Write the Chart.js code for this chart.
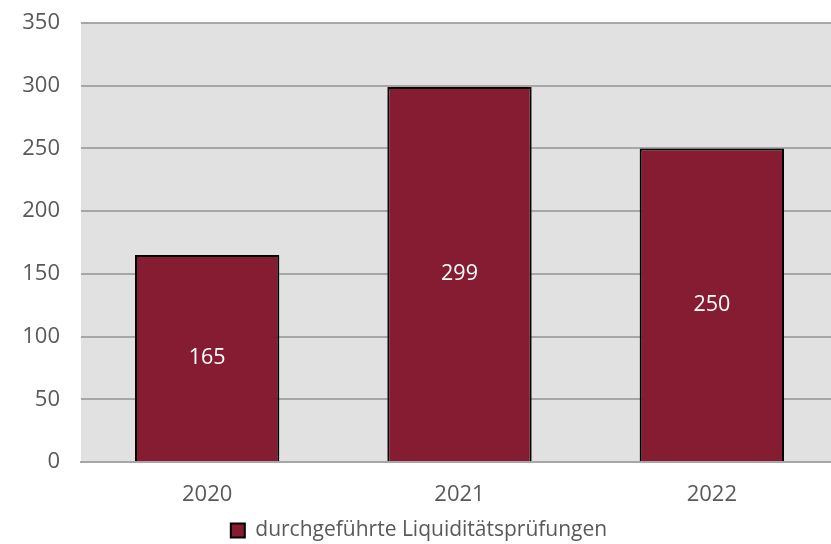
<!DOCTYPE html>
<html>
<head>
<meta charset="utf-8">
<script src="https://cdn.jsdelivr.net/npm/chart.js@4/dist/chart.umd.min.js"></script>
<style>
html,body{margin:0;padding:0;overflow:hidden;background:#fff;}
#wrap{width:838px;height:544px;}
</style>
</head>
<body>
<div id="wrap"><canvas id="c" width="838" height="544"></canvas></div>
<script>
const categories = ["2020", "2021", "2022"];
const seriesName = "durchgeführte Liquiditätsprüfungen";
const values = [165, 299, 250];
const yTicks = [0, 50, 100, 150, 200, 250, 300, 350];

const FONT = "'Open Sans', 'Noto Sans', sans-serif";

const bgPlugin = {
  id: 'plotBg',
  beforeDraw(chart) {
    const a = chart.chartArea, ctx = chart.ctx;
    ctx.save();
    ctx.fillStyle = '#e1e1e1';
    ctx.fillRect(a.left, a.top, a.right - a.left, a.bottom - a.top);
    ctx.restore();
  }
};
const labelPlugin = {
  id: 'valLabels',
  afterDatasetsDraw(chart) {
    const ctx = chart.ctx;
    const meta = chart.getDatasetMeta(0);
    ctx.save();
    ctx.fillStyle = '#ffffff';
    ctx.font = "21.5px " + FONT;
    ctx.textAlign = 'center';
    ctx.textBaseline = 'middle';
    meta.data.forEach((bar, i) => {
      const y = (bar.y + bar.base) / 2;
      ctx.fillText(String(chart.data.datasets[0].data[i]), bar.x, y);
    });
    ctx.restore();
  }
};

new Chart(document.getElementById('c'), {
  type: 'bar',
  data: {
    labels: categories,
    datasets: [{
      label: seriesName,
      data: values,
      backgroundColor: '#861c32',
      borderColor: '#000000',
      borderWidth: 2,
      barPercentage: 0.572,
      categoryPercentage: 1.0
    }]
  },
  options: {
    responsive: false,
    animation: false,
    layout: { padding: { top: 23, right: 0, left: 0, bottom: -7 } },
    plugins: {
      legend: {
        position: 'bottom',
        labels: {
          color: '#595959',
          font: { family: FONT, size: 21 },
          boxWidth: 14,
          boxHeight: 14,
          padding: 1,
          generateLabels(chart) {
            return [{
              text: seriesName,
              fillStyle: '#861c32',
              strokeStyle: '#000000',
              lineWidth: 2,
              fontColor: '#595959',
              datasetIndex: 0
            }];
          }
        }
      },
      tooltip: { enabled: false }
    },
    scales: {
      x: {
        grid: { display: false },
        border: { display: true, color: '#a6a6a6', width: 2 },
        ticks: { color: '#595959', font: { family: FONT, size: 22 }, padding: 12 },
        afterFit(s) { s.height = 57; s.paddingLeft = 0; s.paddingRight = 0; }
      },
      y: {
        min: 0, max: 350,
        afterBuildTicks(s) { s.ticks = yTicks.map(v => ({ value: v })); },
        grid: { color: '#a6a6a6', lineWidth: 2, drawTicks: false },
        border: { display: false },
        ticks: { color: '#595959', font: { family: FONT, size: 22 }, padding: 21 },
        afterFit(s) { s.width = 81; s.paddingTop = 0; s.paddingBottom = 0; }
      }
    }
  },
  plugins: [bgPlugin, labelPlugin]
});
</script>
</body>
</html>
